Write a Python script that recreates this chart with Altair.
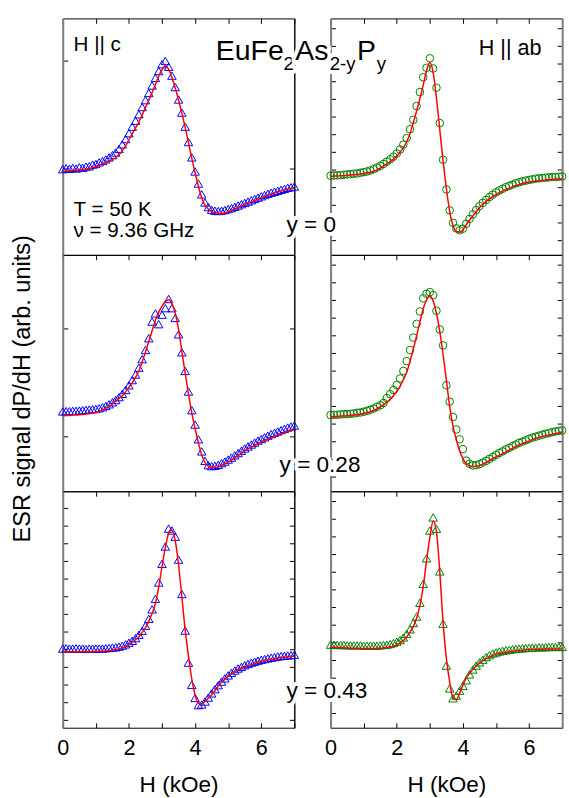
import altair as alt
import pandas as pd

# ---------------- data (arb. units) ----------------
H_KOE = [0.0, 0.1, 0.2, 0.3, 0.4, 0.5, 0.6, 0.7, 0.8, 0.9,
         1.0, 1.1, 1.2, 1.3, 1.4, 1.5, 1.6, 1.7, 1.8, 1.9,
         2.0, 2.1, 2.2, 2.3, 2.4, 2.5, 2.6, 2.7, 2.8, 2.9,
         3.0, 3.1, 3.2, 3.3, 3.4, 3.5, 3.6, 3.7, 3.8, 3.9,
         4.0, 4.1, 4.2, 4.3, 4.4, 4.5, 4.6, 4.7, 4.8, 4.9,
         5.0, 5.1, 5.2, 5.3, 5.4, 5.5, 5.6, 5.7, 5.8, 5.9,
         6.0, 6.1, 6.2, 6.3, 6.4, 6.5, 6.6, 6.7, 6.8, 6.9,
         7.0]

# y = 0, H || c
Y0_C_FIT = [255, 256, 257, 258, 259, 260, 261, 262, 264, 267,
            270, 274, 278, 282, 287, 292, 297, 306, 318, 334,
            352, 370, 388, 406, 428, 451, 473, 496, 521, 546,
            566, 578, 568, 542, 510, 473, 433, 390, 343, 296,
            251, 210, 174, 152, 140, 133, 129, 127, 126, 128,
            132, 136, 140, 145, 149, 154, 158, 162, 166, 170,
            175, 178, 182, 185, 189, 192, 195, 198, 201, 203,
            205]
Y0_C_DATA = [262, 265, 263, 266, 264, 268, 266, 270, 271, 276,
             278, 283, 287, 292, 298, 305, 313, 324, 338, 354,
             372, 392, 410, 430, 452, 473, 495, 518, 541, 562,
             583, 593, 575, 548, 513, 475, 435, 392, 345, 298,
             255, 218, 185, 160, 146, 138, 135, 134, 135, 137,
             140, 143, 147, 151, 155, 159, 163, 167, 171, 175,
             179, 183, 187, 190, 193, 196, 199, 202, 205, 207,
             209]

# y = 0, H || ab
Y0_AB_FIT = [240, 241, 241, 242, 242, 243, 244, 245, 246, 247,
             249, 251, 253, 256, 260, 265, 272, 278, 285, 292,
             302, 314, 328, 346, 370, 404, 440, 478, 519, 563,
             588, 558, 480, 383, 288, 203, 133, 90, 72, 69,
             76, 92, 106, 119, 131, 144, 154, 163, 171, 178,
             184, 190, 195, 200, 204, 208, 212, 215, 218, 221,
             223, 224, 226, 227, 228, 229, 230, 231, 232, 232,
             233]
Y0_AB_DATA = [242, 243, 243, 244, 245, 246, 247, 248, 249, 251,
              253, 255, 258, 262, 267, 272, 278, 285, 292, 300,
              310, 322, 337, 357, 384, 413, 455, 498, 543, 572,
              601, 570, 511, 403, 291, 200, 136, 98, 81, 75,
              80, 95, 110, 124, 137, 149, 159, 168, 177, 184,
              191, 197, 202, 207, 211, 215, 219, 222, 225, 227,
              229, 231, 233, 234, 235, 236, 237, 238, 238, 239,
              240]

# y = 0.28, H || c
Y28_C_FIT = [231, 232, 232, 233, 233, 234, 235, 236, 237, 239,
             241, 243, 248, 254, 260, 267, 275, 284, 292, 304,
             318, 332, 349, 367, 396, 426, 458, 491, 522, 547,
             566, 580, 586, 574, 545, 495, 428, 362, 298, 240,
             192, 148, 112, 88, 77, 73, 73, 76, 79, 84,
             89, 95, 102, 109, 116, 124, 130, 135, 140, 145,
             151, 155, 159, 163, 167, 171, 175, 179, 183, 187,
             192]
Y28_C_DATA = [244, 245, 245, 246, 246, 247, 248, 249, 250, 251,
              252, 254, 257, 261, 266, 272, 279, 288, 298, 310,
              324, 340, 357, 378, 404, 432, 468, 519, 544, 511,
              540, 560, 588, 560, 530, 480, 425, 368, 305, 248,
              204, 159, 122, 93, 80, 77, 78, 81, 86, 91,
              97, 103, 110, 117, 124, 131, 137, 143, 149, 155,
              160, 165, 170, 175, 179, 183, 187, 191, 195, 198,
              201]

# y = 0.28, H || ab
Y28_AB_FIT = [228, 229, 229, 230, 230, 231, 232, 233, 235, 236,
              238, 241, 243, 247, 252, 258, 265, 272, 281, 292,
              305, 321, 342, 364, 397, 435, 475, 518, 558, 585,
              597, 582, 545, 489, 419, 339, 259, 199, 159, 124,
              100, 84, 78, 76, 77, 79, 83, 88, 94, 100,
              105, 110, 115, 120, 126, 131, 137, 142, 146, 150,
              154, 158, 162, 165, 168, 170, 172, 174, 176, 178,
              182]
Y28_AB_DATA = [233, 234, 234, 235, 236, 236, 237, 238, 240, 241,
               243, 246, 249, 253, 258, 263, 270, 285, 297, 310,
               325, 345, 368, 398, 432, 470, 512, 550, 590, 604,
               609, 600, 552, 495, 446, 324, 274, 227, 189, 159,
               129, 94, 84, 79, 80, 83, 88, 93, 99, 105,
               111, 117, 122, 128, 133, 138, 143, 148, 152, 156,
               160, 164, 167, 170, 173, 176, 178, 181, 183, 185,
               186]

# y = 0.43, H || c
Y43_C_FIT = [232, 232, 232, 232, 232, 232, 232, 232, 232, 233,
             233, 234, 234, 235, 236, 237, 239, 241, 244, 248,
             254, 261, 269, 278, 291, 306, 326, 349, 380, 430,
             493, 551, 594, 605, 572, 499, 400, 299, 219, 149,
             100, 74, 72, 80, 90, 100, 113, 127, 140, 148,
             157, 165, 171, 177, 182, 186, 190, 193, 196, 200,
             203, 205, 207, 209, 211, 213, 214, 215, 216, 218,
             219]
Y43_C_DATA = [242, 243, 242, 242, 243, 242, 242, 241, 242, 242,
              242, 242, 242, 243, 244, 245, 246, 248, 251, 255,
              260, 266, 274, 284, 296, 312, 333, 362, 394, 444,
              501, 554, 609, 603, 584, 514, 409, 297, 199, 131,
              91, 69, 71, 80, 92, 105, 118, 130, 141, 151,
              160, 168, 175, 181, 186, 191, 195, 199, 202, 205,
              208, 210, 212, 214, 216, 218, 219, 220, 221, 222,
              223]

# y = 0.43, H || ab
Y43_AB_FIT = [246, 246, 245, 245, 244, 244, 243, 243, 243, 243,
              242, 242, 242, 242, 243, 243, 244, 245, 247, 249,
              253, 259, 267, 277, 292, 310, 335, 374, 432, 510,
              581, 632, 600, 478, 322, 212, 140, 92, 86, 105,
              130, 152, 166, 178, 188, 197, 204, 211, 216, 221,
              225, 228, 229, 231, 232, 234, 235, 236, 237, 238,
              239, 239, 240, 240, 240, 241, 241, 241, 241, 241,
              241]
Y43_AB_DATA = [254, 254, 253, 253, 253, 252, 252, 252, 252, 252,
               251, 251, 251, 251, 251, 252, 253, 254, 256, 259,
               263, 268, 276, 287, 301, 320, 340, 382, 440, 518,
               603, 643, 608, 478, 318, 190, 120, 90, 98, 113,
               128, 145, 163, 178, 190, 200, 208, 216, 222, 227,
               230, 233, 235, 237, 238, 240, 241, 242, 243, 244,
               244, 245, 245, 246, 246, 246, 247, 247, 247, 247,
               247]

X_TICKS = [0, 1, 2, 3, 4, 5, 6, 7]
YT_SPARSE_TOP = [264, 594]
YT_SPARSE_MID = [168, 498]
YT_DENSE_L = [24, 78, 132, 186, 240, 294, 348, 402, 456, 510, 564, 618, 672]
YT_DENSE_R = [45, 99, 153, 207, 261, 315, 369, 423, 477, 531, 585, 639, 693]

# ---------------- styling ----------------
FONT = "Liberation Sans"
RED = "#ff0000"
BLUE = "#0000ff"
GREEN = "#008000"
EDGE_GRAY = "#808080"
PW, PH = 236, 241
XDOM = [0, 7]
YDOM = [0, 723]


def tick_axis(orient, values, **extra):
    opts = dict(orient=orient, values=values, offset=-5, tickSize=5,
                tickColor="black", tickWidth=1, domain=False, grid=False,
                labels=False, minExtent=0, title=None)
    opts.update(extra)
    return alt.Axis(**opts)


def edge_axis(orient, values, edge_color, edge_width, **extra):
    # axis flipped onto the opposite edge so that its ticks point into the panel
    opts = dict(orient=orient, values=values, offset=-PW, tickSize=5,
                tickColor="black", tickWidth=1, domain=True, domainColor=edge_color,
                domainWidth=edge_width, grid=False, labels=False, minExtent=0, title=None)
    opts.update(extra)
    return alt.Axis(**opts)


def note(text, x, y, size, align="left", halo=False):
    one = pd.DataFrame({"k": [0]})
    layers = []
    if halo:
        layers.append(
            alt.Chart(one).mark_text(text=text, font=FONT, fontSize=size, align=align,
                                     baseline="alphabetic", color="white", stroke="white",
                                     strokeWidth=8, strokeJoin="round")
            .encode(x=alt.value(x), y=alt.value(y)))
    layers.append(
        alt.Chart(one).mark_text(text=text, font=FONT, fontSize=size, align=align,
                                 baseline="alphabetic", color="black")
        .encode(x=alt.value(x), y=alt.value(y)))
    return layers


def panel(fit, data, color, shape, yticks, right_col, bottom=False, ytitle=False, notes=()):
    df = pd.DataFrame({"H": H_KOE, "fit": fit, "sig": data})
    xs = alt.Scale(domain=XDOM, nice=False, zero=False)
    ys = alt.Scale(domain=YDOM, nice=False, zero=False)
    if bottom:
        x_axis = tick_axis("bottom", X_TICKS, labels=True,
                           labelExpr="datum.value % 2 == 0 ? datum.label : ''",
                           labelFont=FONT, labelFontSize=22, labelColor="black",
                           labelPadding=10, labelFlush=False,
                           title="H (kOe)", titleFont=FONT, titleFontSize=23,
                           titleFontWeight="normal", titleColor="black", titlePadding=16)
    else:
        x_axis = None
    # left edge: gray, ticks inward
    if ytitle:
        y_left = edge_axis("right", yticks, EDGE_GRAY, 2,
                           title="ESR signal dP/dH (arb. units)",
                           titleFont=FONT, titleFontSize=24, titleFontWeight="normal",
                           titleColor="black", titleAngle=270, titleAlign="center",
                           titleBaseline="middle", titleX=-41, titleY=136)
    else:
        y_left = edge_axis("right", yticks, EDGE_GRAY, 2)
    # right edge: gray on the right column, black on the left column
    if right_col:
        y_right = edge_axis("left", yticks, EDGE_GRAY, 2)
    else:
        y_right = edge_axis("left", yticks, "black", 1)
    size = 75 if shape == "triangle-up" else 60
    pts = alt.Chart(df).mark_point(shape=shape, filled=False, size=size, strokeWidth=1,
                                   color=color, opacity=1).encode(
        x=alt.X("H:Q", scale=xs, axis=x_axis),
        y=alt.Y("sig:Q", scale=ys, axis=y_left))
    line = alt.Chart(df).mark_line(color=RED, strokeWidth=1.5, interpolate="monotone").encode(
        x=alt.X("H:Q", scale=xs, axis=tick_axis("top", X_TICKS)),
        y=alt.Y("fit:Q", scale=ys, axis=y_right))
    layers = [pts, line]
    for n in notes:
        layers.extend(note(*n))
    return (alt.layer(*layers)
            .resolve_axis(x="independent", y="independent")
            .properties(width=PW, height=PH))


tl = panel(Y0_C_FIT, Y0_C_DATA, BLUE, "triangle-up", YT_SPARSE_TOP, False,
           notes=[("H || c", 11, 33, 21),
                  ("T = 50 K", 11, 201, 21),
                  ("\u03bd = 9.36 GHz", 11, 223, 21)])
ml = panel(Y28_C_FIT, Y28_C_DATA, BLUE, "triangle-up", YT_SPARSE_MID, False, ytitle=True)
bl = panel(Y43_C_FIT, Y43_C_DATA, BLUE, "triangle-up", YT_DENSE_L, False, bottom=True)

tr = panel(Y0_AB_FIT, Y0_AB_DATA, GREEN, "circle", YT_DENSE_R, True,
           notes=[("H || ab", 215, 37, 22, "right"),
                  ("EuFe", -117, 42, 29, "left", True),
                  ("2", -48, 53, 19, "left", True),
                  ("As", -36, 42, 29, "left", True),
                  ("2-y", -1, 53, 19, "left", True),
                  ("P", 27, 42, 29, "left", True),
                  ("y", 47, 53, 19, "left", True),
                  ("y = 0", -45, 218, 23, "left", True)])
mr = panel(Y28_AB_FIT, Y28_AB_DATA, GREEN, "circle", YT_DENSE_R, True,
           notes=[("y = 0.28", -52, 221, 23, "left", True)])
br = panel(Y43_AB_FIT, Y43_AB_DATA, GREEN, "triangle-up", YT_DENSE_R, True, bottom=True,
           notes=[("y = 0.43", -45, 211, 23, "left", True)])

chart = (alt.concat(tl, tr, ml, mr, bl, br, columns=2,
                    spacing={"row": 0, "column": 37}, bounds="flush")
         .properties(padding={"left": 10, "top": 10, "right": 0, "bottom": 0},
                     background="white")
         .configure_view(stroke="black", strokeWidth=1)
         .configure_text(font=FONT))

chart.save("out.html", embed_options={"renderer": "svg", "actions": False})
